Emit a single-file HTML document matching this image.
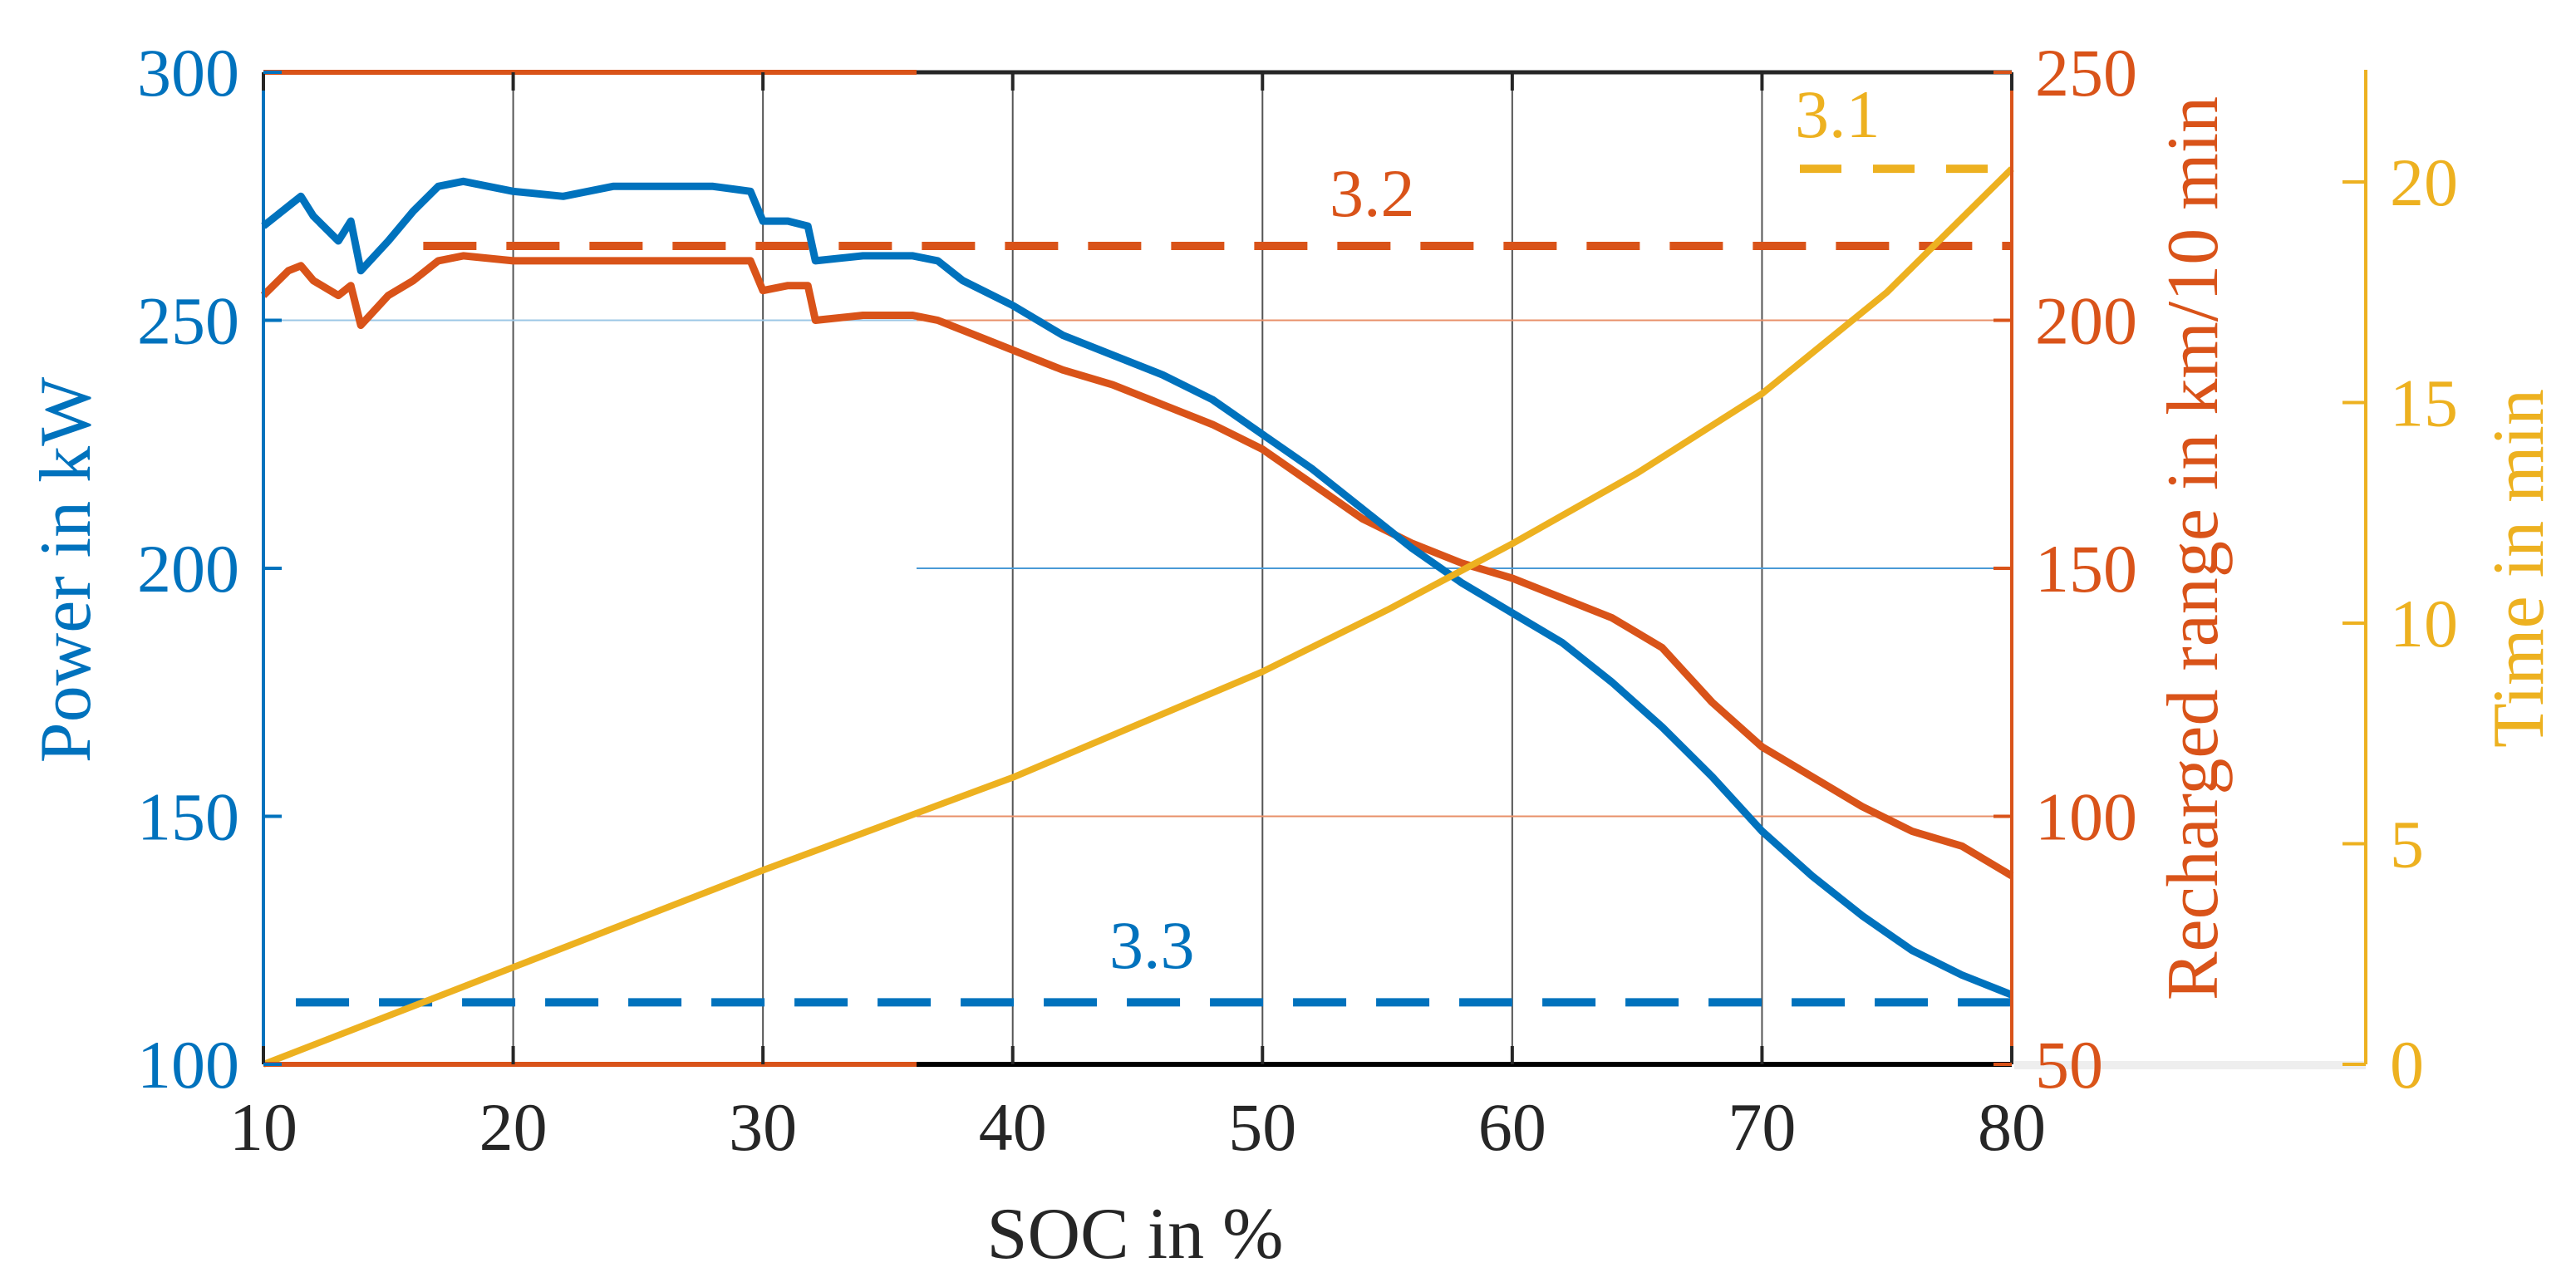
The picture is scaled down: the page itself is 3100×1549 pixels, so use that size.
<!DOCTYPE html>
<html><head><meta charset="utf-8"><style>
html,body{margin:0;padding:0;background:#fff;}
svg{display:block;font-family:"Liberation Serif",serif;}
</style></head><body>
<svg id="chart" width="3100" height="1549" viewBox="0 0 3100 1549" xmlns="http://www.w3.org/2000/svg">
<g id="grid"></g>
<g id="series"></g>
<g id="axes"></g>
</svg>
<script>
const socVals=[10,11,11.5,12,13,13.5,13.9,15,16,17,18,20,22,24,26,28,29.5,30,31,31.8,32.1,34,36,37,38,40,42,44,46,48,50,52,54,56,58,60,62,64,66,68,70,72,74,76,78,80];
const powerVals=[269,273,275,271,266,270,260,266,272,277,278,276,275,277,277,277,276,270,270,269,262,263,263,262,258,253,247,243,239,234,227,220,212,204,197,191,185,177,168,158,147,138,130,123,118,114];
const rangeVals=[205,210,211,208,205,207,199,205,208,212,213,212,212,212,212,212,212,206,207,207,200,201,201,200,198,194,190,187,183,179,174,167,160,155,151,148,144,140,134,123,114,108,102,97,94,88];
const timeSoc=[10,15,20,25,30,35,40,45,50,55,60,65,70,75,80];
const timeVals=[0,1.1,2.2,3.3,4.4,5.45,6.5,7.7,8.9,10.3,11.8,13.4,15.2,17.5,20.3];
const xTicks=[10,20,30,40,50,60,70,80];
const powerTicks=[100,150,200,250,300];
const rangeTicks=[50,100,150,200,250];
const timeTicks=[0,5,10,15,20];
const refPower=112.5, refRange=215, refTime=20.3;

const BLUE='#0072bd',ORANGE='#d95319',YEL='#edb120',DARK='#262626';
const X0=317,X1=2421,YT=87,YB=1281,TX=2847;
const sx=v=>X0+(v-10)/70*(X1-X0);
const syP=v=>YB-(v-100)/200*(YB-YT);
const syR=v=>YB-(v-50)/200*(YB-YT);
const syT=v=>YB-v*53.1;
const NS='http://www.w3.org/2000/svg';
function mk(tag,attrs,parent,txt){const e=document.createElementNS(NS,tag);for(const k in attrs)e.setAttribute(k,attrs[k]);if(txt!==undefined)e.textContent=txt;parent.appendChild(e);return e;}
const grid=document.getElementById('grid'),ser=document.getElementById('series'),ax=document.getElementById('axes');

xTicks.slice(1,-1).forEach(v=>{
 const l=mk('line',{x1:sx(v),x2:sx(v),y1:YT,y2:YB,stroke:'#555',"stroke-width":2},grid);
 
 
});
const XM=1103;
[[X0,XM,syP(250),'#9cc7e6'],[XM,X1,syP(200),'#4a9ad6'],[XM,X1,syR(200),'#e8906a'],[XM,X1,syR(100),'#e8906a']].forEach(g=>{
 const l=mk('line',{x1:g[0],x2:g[1],y1:g[2],y2:g[2],stroke:g[3],"stroke-width":2},grid);
 
 
});

const d1=mk('line',{x1:sx(11.3),x2:X1,y1:syP(refPower),y2:syP(refPower),stroke:BLUE,"stroke-width":10,"stroke-dasharray":"64 36"},ser);


const d2=mk('line',{x1:sx(16.4),x2:X1,y1:syR(refRange),y2:syR(refRange),stroke:ORANGE,"stroke-width":10,"stroke-dasharray":"64 36"},ser);


const d3=mk('line',{x1:2166,x2:X1,y1:syT(refTime),y2:syT(refTime),stroke:YEL,"stroke-width":10,"stroke-dasharray":"50 38"},ser);



function path(xs,ys,fx,fy){return xs.map((v,i)=>(i?'L':'M')+fx(v).toFixed(1)+' '+fy(ys[i]).toFixed(1)).join(' ');}
const pr=mk('path',{d:path(socVals,rangeVals,sx,syR),fill:'none',stroke:ORANGE,"stroke-width":9,"stroke-linejoin":"round"},ser);


const pp=mk('path',{d:path(socVals,powerVals,sx,syP),fill:'none',stroke:BLUE,"stroke-width":9,"stroke-linejoin":"round"},ser);


const pt=mk('path',{d:path(timeSoc,timeVals,sx,syT),fill:'none',stroke:YEL,"stroke-width":8,"stroke-linejoin":"round"},ser);



[['3.1',2160,165,YEL,'label-3-1'],['3.2',1600,260,ORANGE,'label-3-2'],['3.3',1335,1165,BLUE,'label-3-3']].forEach(a=>{
 const t=mk('text',{x:a[1],y:a[2],fill:a[3],"font-size":82},ser,a[0]);
 
 
});

mk('line',{x1:X0,x2:XM,y1:YT,y2:YT,stroke:ORANGE,"stroke-width":6},ax);
mk('line',{x1:XM,x2:X1,y1:YT,y2:YT,stroke:DARK,"stroke-width":5},ax);
mk('line',{x1:X0,x2:XM,y1:YB,y2:YB,stroke:ORANGE,"stroke-width":6},ax);
mk('line',{x1:XM,x2:X1,y1:YB,y2:YB,stroke:'#000',"stroke-width":6},ax);
mk('rect',{x:X1+3,y:YB-4,width:TX-X1-3,height:10,fill:'#eeeeee'},ax);
mk('line',{x1:X0,x2:X0,y1:YT,y2:YB,stroke:BLUE,"stroke-width":4},ax);
mk('line',{x1:X1,x2:X1,y1:YT,y2:YB,stroke:ORANGE,"stroke-width":4},ax);
mk('line',{x1:TX,x2:TX,y1:84,y2:YB,stroke:YEL,"stroke-width":4},ax);

xTicks.forEach(v=>{
 mk('line',{x1:sx(v),x2:sx(v),y1:YB,y2:YB-22,stroke:DARK,"stroke-width":4},ax);
 mk('line',{x1:sx(v),x2:sx(v),y1:YT,y2:YT+22,stroke:DARK,"stroke-width":4},ax);
 const t=mk('text',{x:sx(v),y:1384,fill:DARK,"font-size":82,"text-anchor":"middle"},ax,String(v));
 
 
});
powerTicks.forEach(v=>{
 mk('line',{x1:X0,x2:X0+22,y1:syP(v),y2:syP(v),stroke:BLUE,"stroke-width":4},ax);
 const t=mk('text',{x:288,y:syP(v)+28,fill:BLUE,"font-size":82,"text-anchor":"end"},ax,String(v));
 
 
});
rangeTicks.forEach(v=>{
 mk('line',{x1:X1,x2:X1-22,y1:syR(v),y2:syR(v),stroke:ORANGE,"stroke-width":4},ax);
 const t=mk('text',{x:2449,y:syR(v)+28,fill:ORANGE,"font-size":82},ax,String(v));
 
 
});
timeTicks.forEach(v=>{
 mk('line',{x1:TX,x2:TX-28,y1:syT(v),y2:syT(v),stroke:YEL,"stroke-width":4},ax);
 const t=mk('text',{x:2876,y:syT(v)+28,fill:YEL,"font-size":82},ax,String(v));
 
 
});

const xt=mk('text',{x:1366,y:1514,fill:DARK,"font-size":88,"text-anchor":"middle"},ax,'SOC in %');


const yt1=mk('text',{x:0,y:0,fill:BLUE,"font-size":88,"text-anchor":"middle",transform:'translate(108,686) rotate(-90)'},ax,'Power in kW');


const yt2=mk('text',{x:0,y:0,fill:ORANGE,"font-size":88,"text-anchor":"middle",transform:'translate(2668,660) rotate(-90)'},ax,'Recharged range in km/10 min');


const yt3=mk('text',{x:0,y:0,fill:YEL,"font-size":88,"text-anchor":"middle",transform:'translate(3060,684) rotate(-90)'},ax,'Time in min');


</script>
</body></html>
